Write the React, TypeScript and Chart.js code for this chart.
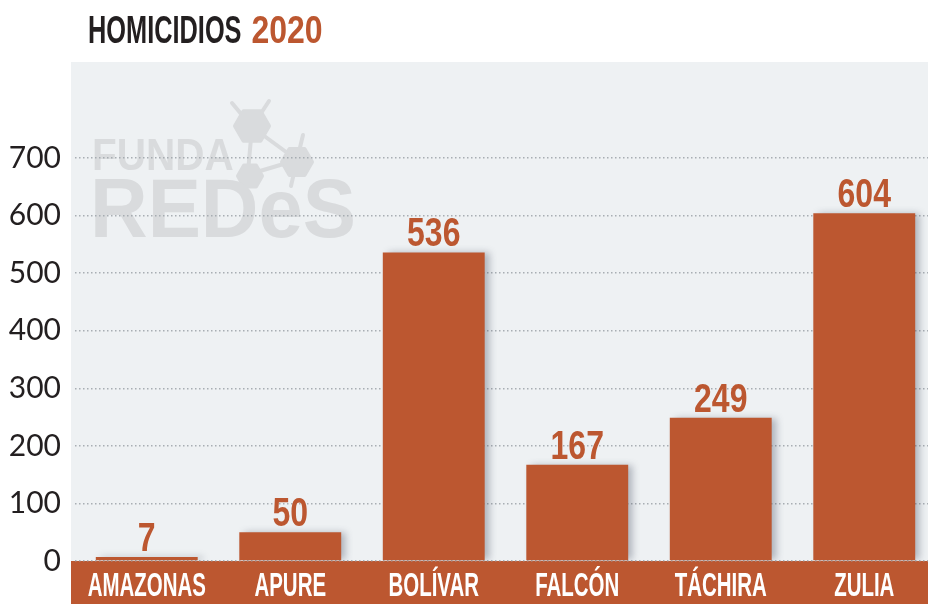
import React, { useEffect, useRef } from "react";
import { Chart, registerables } from "chart.js";

Chart.register(...registerables);

const categories = ["AMAZONAS", "APURE", "BOLÍVAR", "FALCÓN", "TÁCHIRA", "ZULIA"];
const homicides = [7, 50, 536, 167, 249, 604];
const yTicks = [0, 100, 200, 300, 400, 500, 600, 700];
const titleMain = "HOMICIDIOS";
const titleYear = "2020";

const ORANGE = "#BC5730";
const DARK = "#231f20";
const BG = "#eef1f3";
const WM = "#d9dbdd";

function drawCondensed(
  ctx: CanvasRenderingContext2D,
  text: string,
  x: number,
  y: number,
  font: string,
  scaleX: number,
  align: "left" | "center" | "right"
) {
  ctx.save();
  ctx.font = font;
  ctx.textBaseline = "alphabetic";
  ctx.textAlign = "left";
  const w = ctx.measureText(text).width * scaleX;
  const left = align === "center" ? x - w / 2 : align === "right" ? x - w : x;
  ctx.translate(left, y);
  ctx.scale(scaleX, 1);
  ctx.fillText(text, 0, 0);
  ctx.restore();
  return w;
}

function hexagon(ctx: CanvasRenderingContext2D, cx: number, cy: number, r: number) {
  ctx.beginPath();
  for (let i = 0; i < 6; i++) {
    const a = Math.PI / 6 + (i * Math.PI) / 3 + Math.PI / 2;
    const px = cx + r * Math.cos(a);
    const py = cy + r * Math.sin(a);
    if (i === 0) ctx.moveTo(px, py);
    else ctx.lineTo(px, py);
  }
  ctx.closePath();
  ctx.lineJoin = "round";
  ctx.lineWidth = 4;
  ctx.stroke();
  ctx.fill();
}

const decorPlugin = {
  id: "decor",
  beforeDraw(chart: any) {
    const ctx: CanvasRenderingContext2D = chart.ctx;
    const area = chart.chartArea;
    const W = chart.width;
    const H = chart.height;
    ctx.save();
    ctx.fillStyle = "#ffffff";
    ctx.fillRect(0, 0, W, H);
    // panel background
    ctx.fillStyle = BG;
    ctx.fillRect(area.left - 4, 62, W, area.bottom - 62);
    // bottom band
    ctx.fillStyle = ORANGE;
    ctx.fillRect(area.left - 4, area.bottom, W, H - area.bottom);

    // watermark
    ctx.fillStyle = WM;
    ctx.strokeStyle = WM;
    ctx.lineWidth = 4;
    ctx.lineCap = "round";
    ctx.beginPath();
    ctx.moveTo(252, 127);
    ctx.lineTo(232, 103);
    ctx.moveTo(252, 127);
    ctx.lineTo(269, 101);
    ctx.moveTo(252, 127);
    ctx.lineTo(297, 160);
    ctx.moveTo(252, 127);
    ctx.lineTo(248, 172);
    ctx.moveTo(297, 160);
    ctx.lineTo(303, 135);
    ctx.moveTo(297, 160);
    ctx.lineTo(250, 174);
    ctx.moveTo(297, 160);
    ctx.lineTo(291, 186);
    ctx.stroke();
    hexagon(ctx, 252, 126, 17);
    hexagon(ctx, 297, 162, 15);
    hexagon(ctx, 250, 176, 12);
    ctx.fillStyle = WM;
    drawCondensed(ctx, "FUNDA", 92, 170, "bold 44px 'Liberation Sans'", 0.92, "left");
    drawCondensed(ctx, "REDeS", 90, 237, "900 84px 'Liberation Sans'", 0.95, "left");
    ctx.restore();
  },
  afterDraw(chart: any) {
    const ctx: CanvasRenderingContext2D = chart.ctx;
    const x = chart.scales.x;
    const y = chart.scales.y;
    const meta = chart.getDatasetMeta(0);
    ctx.save();
    // title
    ctx.fillStyle = DARK;
    const w = drawCondensed(ctx, titleMain, 88, 43, "bold 39px 'Liberation Sans'", 0.65, "left");
    ctx.fillStyle = ORANGE;
    drawCondensed(ctx, titleYear, 88 + w + 10, 43, "bold 39px 'Liberation Sans'", 0.82, "left");
    // category labels
    ctx.fillStyle = "#ffffff";
    categories.forEach((c, i) => {
      drawCondensed(ctx, c, x.getPixelForValue(i), 596, "bold 33px 'Liberation Sans'", 0.62, "center");
    });
    // value labels
    ctx.fillStyle = ORANGE;
    homicides.forEach((v, i) => {
      const el = meta.data[i];
      drawCondensed(ctx, String(v), el.x, y.getPixelForValue(v) - 6, "bold 40px 'Liberation Sans'", 0.8, "center");
    });
    ctx.restore();
  },
};

const shadowPlugin = {
  id: "barShadow",
  beforeDatasetsDraw(chart: any) {
    const ctx = chart.ctx;
    ctx.save();
    ctx.shadowColor = "rgba(60,70,90,0.35)";
    ctx.shadowBlur = 7;
    ctx.shadowOffsetX = 5;
    ctx.shadowOffsetY = 0;
  },
  afterDatasetsDraw(chart: any) {
    chart.ctx.restore();
  },
};

export default function App() {
  const ref = useRef<HTMLCanvasElement | null>(null);
  useEffect(() => {
    document.body.style.margin = "0";
    const canvas = ref.current;
    if (!canvas) return;
    const chart = new Chart(canvas, {
      type: "bar",
      data: {
        labels: categories,
        datasets: [
          {
            data: homicides,
            backgroundColor: ORANGE,
            borderWidth: 0,
            barPercentage: 0.71,
            categoryPercentage: 1,
          },
        ],
      },
      options: {
        responsive: false,
        animation: false,
        devicePixelRatio: 1,
        layout: { padding: { top: 158, right: 0, left: 0, bottom: 0 } },
        plugins: { legend: { display: false }, tooltip: { enabled: false }, title: { display: false } },
        scales: {
          x: {
            grid: { display: false },
            border: { display: false },
            ticks: { display: false },
            afterFit(scale: any) {
              scale.height = 43;
            },
          },
          y: {
            min: 0,
            max: 700,
            afterBuildTicks(scale: any) {
              scale.ticks = yTicks.map((v) => ({ value: v }));
            },
            grid: {
              color: "rgba(160,166,172,0.9)",
              lineWidth: 1.5,
              drawTicks: false,
              tickBorderDash: [1.5, 2.5],
            },
            border: { display: false, dash: [1.5, 2.5] },
            ticks: {
              color: DARK,
              padding: 14,
              font: { family: "Lato", size: 30, weight: "normal" },
            },
            afterFit(scale: any) {
              scale.width = 75;
            },
          },
        },
      },
      plugins: [decorPlugin, shadowPlugin],
    } as any);
    return () => chart.destroy();
  }, []);
  return (
    <div style={{ width: 928, height: 604, overflow: "hidden", position: "relative" }}>
      <canvas ref={ref} width={936} height={604} style={{ display: "block" }} />
    </div>
  );
}
